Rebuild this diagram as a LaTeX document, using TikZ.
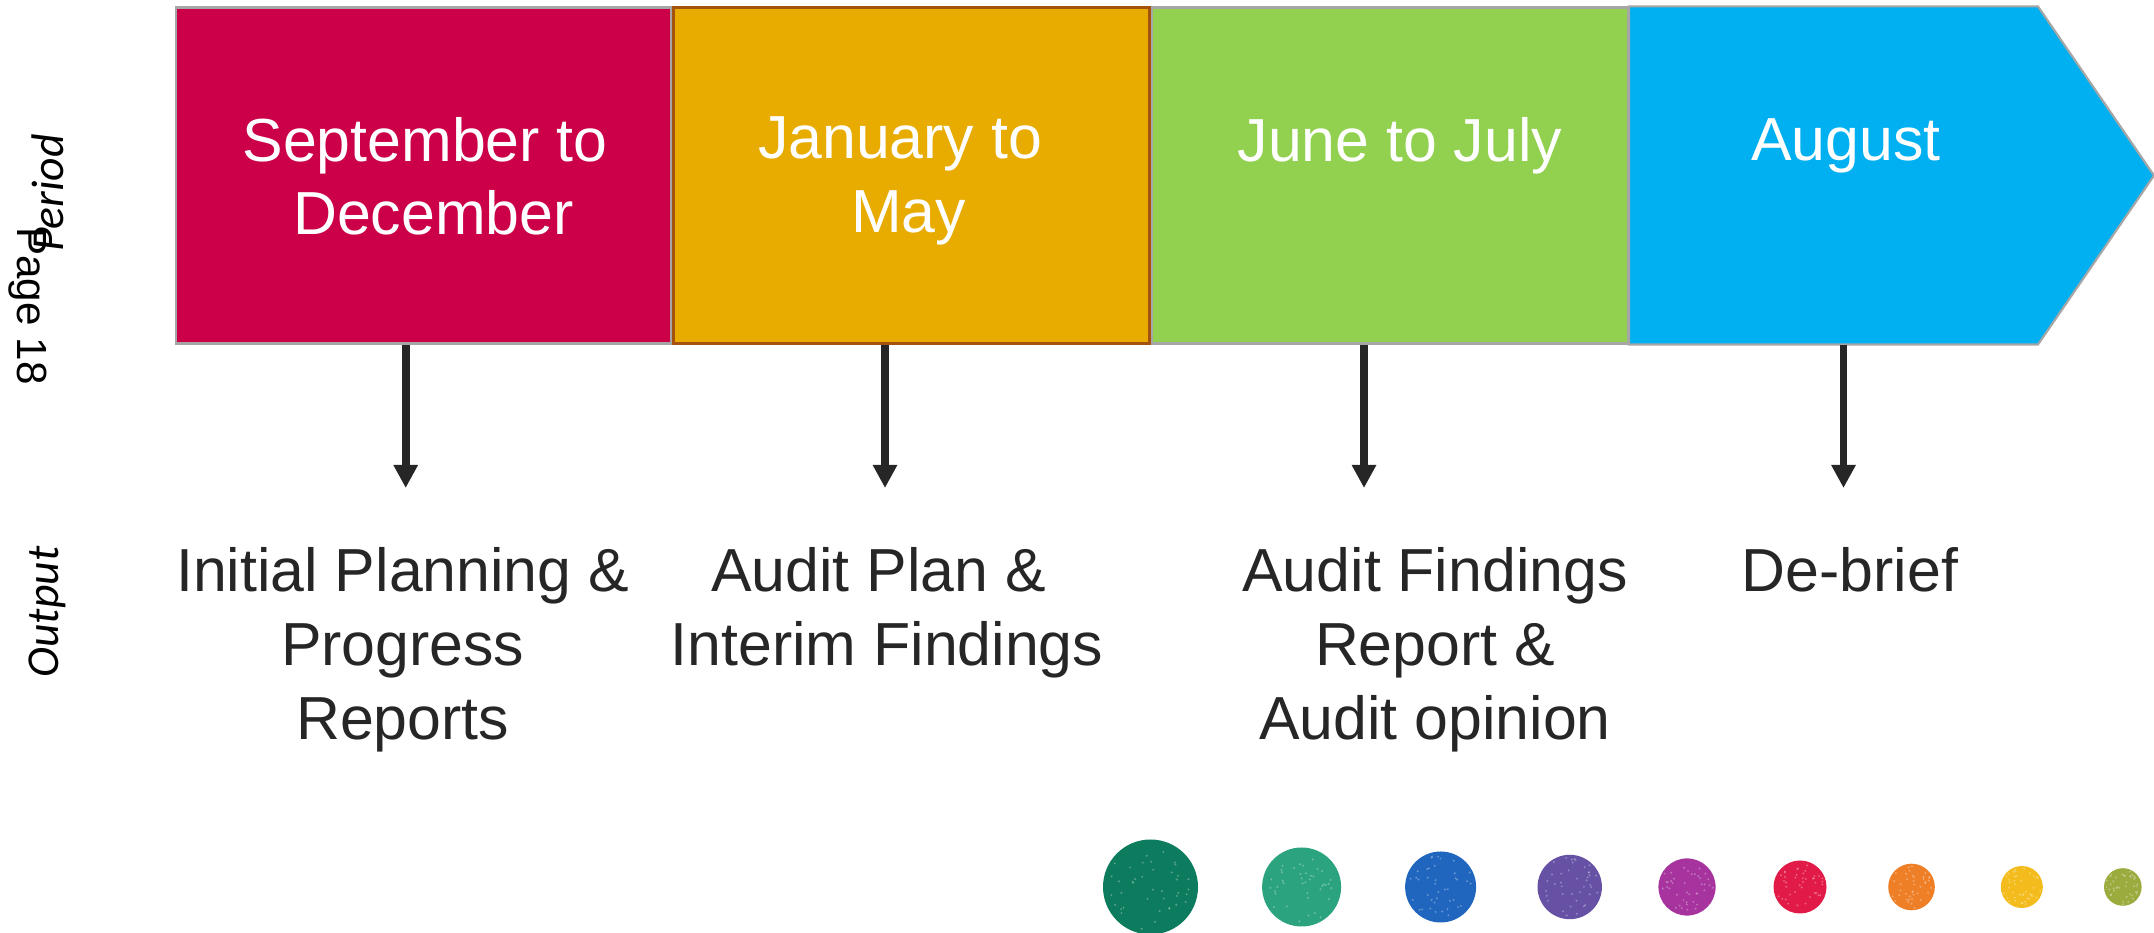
\documentclass[tikz,border=0pt]{standalone}
\usepackage{fontspec}
\setmainfont{Liberation Sans}
\newfontfamily\carlito{Carlito}
\usepackage{tikz}
\usetikzlibrary{
    positioning,
    arrows.meta,
    calc
}

\definecolor{sepred}{HTML}{CC0049}
\definecolor{janorange}{HTML}{E8AB00}
\definecolor{jungreen}{HTML}{92D050}
\definecolor{augblue}{HTML}{00B0F0}
\definecolor{boxline}{HTML}{A6A6A6}
\definecolor{janline}{HTML}{A5520F}
\definecolor{inkgrey}{HTML}{262626}
\definecolor{dotgreen}{HTML}{0D7B5E}
\definecolor{dotteal}{HTML}{2BA37E}
\definecolor{dotblue}{HTML}{2066BE}
\definecolor{dotpurple}{HTML}{6651A5}
\definecolor{dotmagenta}{HTML}{A6339E}
\definecolor{dotred}{HTML}{E11A48}
\definecolor{dotorange}{HTML}{EE7F27}
\definecolor{dotyellow}{HTML}{F3BC1C}
\definecolor{dotolive}{HTML}{9CAB3E}

\newcommand{\tailsp}{\hspace*{0.278em}}

\tikzset{
    phase/.style={
        rectangle, draw=boxline, line width=0.6pt,
        minimum height=3.36cm, inner sep=0pt
    },
    phasetext/.style={
        text=white, align=center, inner sep=0pt,
        font=\fontsize{17.3}{21}\selectfont
    },
    outtext/.style={
        text=inkgrey, align=center, inner sep=0pt,
        font=\fontsize{17.3}{21}\selectfont
    },
    arrow/.style={
        -{Triangle[width=0.23cm, length=0.23cm]}, line width=2.2pt, draw=inkgrey
    },
    sidelabel/.style={
        font=\carlito\itshape\fontsize{13}{15}\selectfont,
        inner sep=0pt, rotate=90
    },
    dot/.style={
        circle, inner sep=0pt
    },
    speck/.style={
        white, opacity=0.3
    }
}

\begin{document}
\begin{tikzpicture}
    \useasboundingbox (0,0) rectangle (21.54,9.33);

    % the four periods
    \node[phase, fill=sepred, minimum width=4.95cm] (sepdec) at (4.235,7.575) {};
    \node[phase, fill=janorange, draw=janline, line width=0.8pt,
          minimum width=4.76cm, right=0pt of sepdec] (janmay) {};
    \node[phase, fill=jungreen, minimum width=4.76cm, right=0pt of janmay] (junjul) {};
    \coordinate (augtop) at ($(junjul.north east)+(4.09,0)$);
    \coordinate (augbot) at ($(junjul.south east)+(4.09,0)$);
    \coordinate (augtip) at (21.54,7.575);
    \draw[fill=augblue, draw=boxline, line width=0.6pt]
        (junjul.north east) -- (augtop) -- (augtip) -- (augbot) -- (junjul.south east) -- cycle;

    \node[phasetext, below=1.1cm of sepdec.north, xshift=0.1cm] (sepdec_lbl) {September to\tailsp\\December};
    \node[phasetext, below=1.1cm of janmay.north, xshift=-0.03cm] (janmay_lbl) {January to\tailsp\\May};
    \node[phasetext, below=1.1cm of junjul.north, xshift=0.1cm] (junjul_lbl) {June to July};
    \node[phasetext, anchor=north] (aug_lbl) at (18.46,8.15) {August};

    % outputs
    \coordinate (tip1) at (4.057,4.45);
    \coordinate (tip2) at (8.85,4.45);
    \coordinate (tip3) at (13.64,4.45);
    \coordinate (tip4) at (18.435,4.45);

    \draw[arrow] (sepdec.south -| tip1) -- (tip1);
    \draw[arrow] (janmay.south -| tip2) -- (tip2);
    \draw[arrow] (junjul.south -| tip3) -- (tip3);
    \draw[arrow] (augbot -| tip4) -- (tip4);

    \node[outtext, below=0.59cm of tip1, xshift=-0.03cm] (out_plan) {Initial Planning \&\\Progress\\Reports};
    \node[outtext, below=0.59cm of tip2, xshift=0.02cm] (out_interim) {Audit Plan \&\tailsp\\Interim Findings};
    \node[outtext, below=0.59cm of tip3, xshift=0.71cm] (out_findings) {Audit Findings\\Report \&\\Audit opinion};
    \node[outtext, below=0.59cm of tip4, xshift=0.065cm] (out_debrief) {De-brief};

    % row labels on the left
    \node[sidelabel] (period_lbl) at (0.475,7.40) {Period};
    \node[font=\fontsize{12}{14}\selectfont, rotate=-90, inner sep=0pt] (page_lbl)
        at (0.28,6.27) {Page 18};
    \node[sidelabel] (output_lbl) at (0.475,3.21) {Output};

    % row of dots, largest first, with a light speckle
    \pgfmathsetseed{18}
    \foreach \x/\d/\c [count=\i] in {11.505/0.95/dotgreen, 13.016/0.79/dotteal,
            14.406/0.71/dotblue, 15.697/0.644/dotpurple, 16.87/0.572/dotmagenta,
            18.0/0.53/dotred, 19.115/0.466/dotorange, 20.218/0.42/dotyellow,
            21.228/0.376/dotolive} {
        \node[dot, fill=\c, minimum size=\d cm] (dot\i) at (\x,0.46) {};
        \foreach \k in {1,...,40} {
            \pgfmathsetmacro{\ang}{360*rnd}
            \pgfmathsetmacro{\rad}{0.46*\d*sqrt(rnd)}
            \fill[speck] ($(dot\i)+(\ang:\rad)$) circle (0.011);
        }
    }
\end{tikzpicture}
\end{document}
